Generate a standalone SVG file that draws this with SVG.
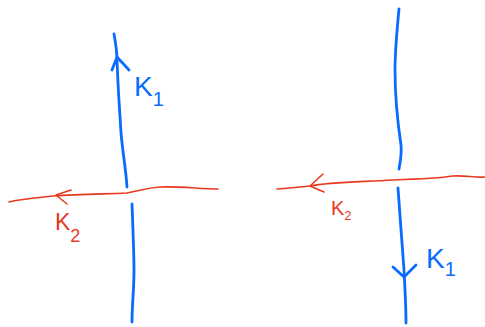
<svg xmlns="http://www.w3.org/2000/svg" width="485" height="327" viewBox="0 0 485 327">
  <style>
    .blue { fill: none; stroke: #0a6cff; stroke-width: 2.8; stroke-linecap: round; stroke-linejoin: round; }
    .red { fill: none; stroke: #e8391f; stroke-width: 1.6; stroke-linecap: round; stroke-linejoin: round; }
    .lblB { fill: #0a6cff; font-family: "Liberation Sans", Arial, sans-serif; }
    .lblR { fill: #e8391f; font-family: "Liberation Sans", Arial, sans-serif; }
  </style>
  <rect width="485" height="327" fill="#ffffff"/>

  <!-- left crossing: K1 pointing up, K2 pointing left -->
  <g id="left-k1">
    <path class="blue" d="M114,34 C116,45 117,52 117,60 C118,90 120,115 121,133 C123,155 126,170 127,187"/>
    <path class="blue" d="M112,70 L117,57 L129,70"/>
    <path class="blue" d="M132,204 C133,230 134,255 134,270 C134,290 132,305 132,322"/>
    <text class="lblB" x="134" y="96" font-size="28">K<tspan font-size="20" dy="10">1</tspan></text>
  </g>
  <g id="left-k2">
    <path class="red" d="M9,202 C20,199 35,198 53,196 C80,194 105,194 127,193 C140,191 145,188 160,187 C180,186 200,189 218,189"/>
    <path class="red" d="M71,190 L56,195 L67,204"/>
    <text class="lblR" x="55" y="230" font-size="23">K<tspan font-size="18" dy="12">2</tspan></text>
  </g>

  <!-- right crossing: K1 pointing down, K2 pointing left -->
  <g id="right-k1">
    <path class="blue" d="M399,9 C397,30 395,50 395,70 C395,100 398,125 401,145 C402,155 400,162 399,169"/>
    <path class="blue" d="M398,188 C400,215 402,245 404,270 C405,290 406,305 406,323"/>
    <path class="blue" d="M393,267 L404,277 L416,265"/>
    <text class="lblB" x="426" y="268" font-size="28">K<tspan font-size="20" dy="8">1</tspan></text>
  </g>
  <g id="right-k2">
    <path class="red" d="M277,189 C290,188 300,187 310,186 C330,182 360,182 393,180 C420,179 440,178 453,176 C465,175 475,178 485,177"/>
    <path class="red" d="M323,174 L310,186 L324,192"/>
    <text class="lblR" x="331" y="215" font-size="20">K<tspan font-size="13" dy="5">2</tspan></text>
  </g>
</svg>
